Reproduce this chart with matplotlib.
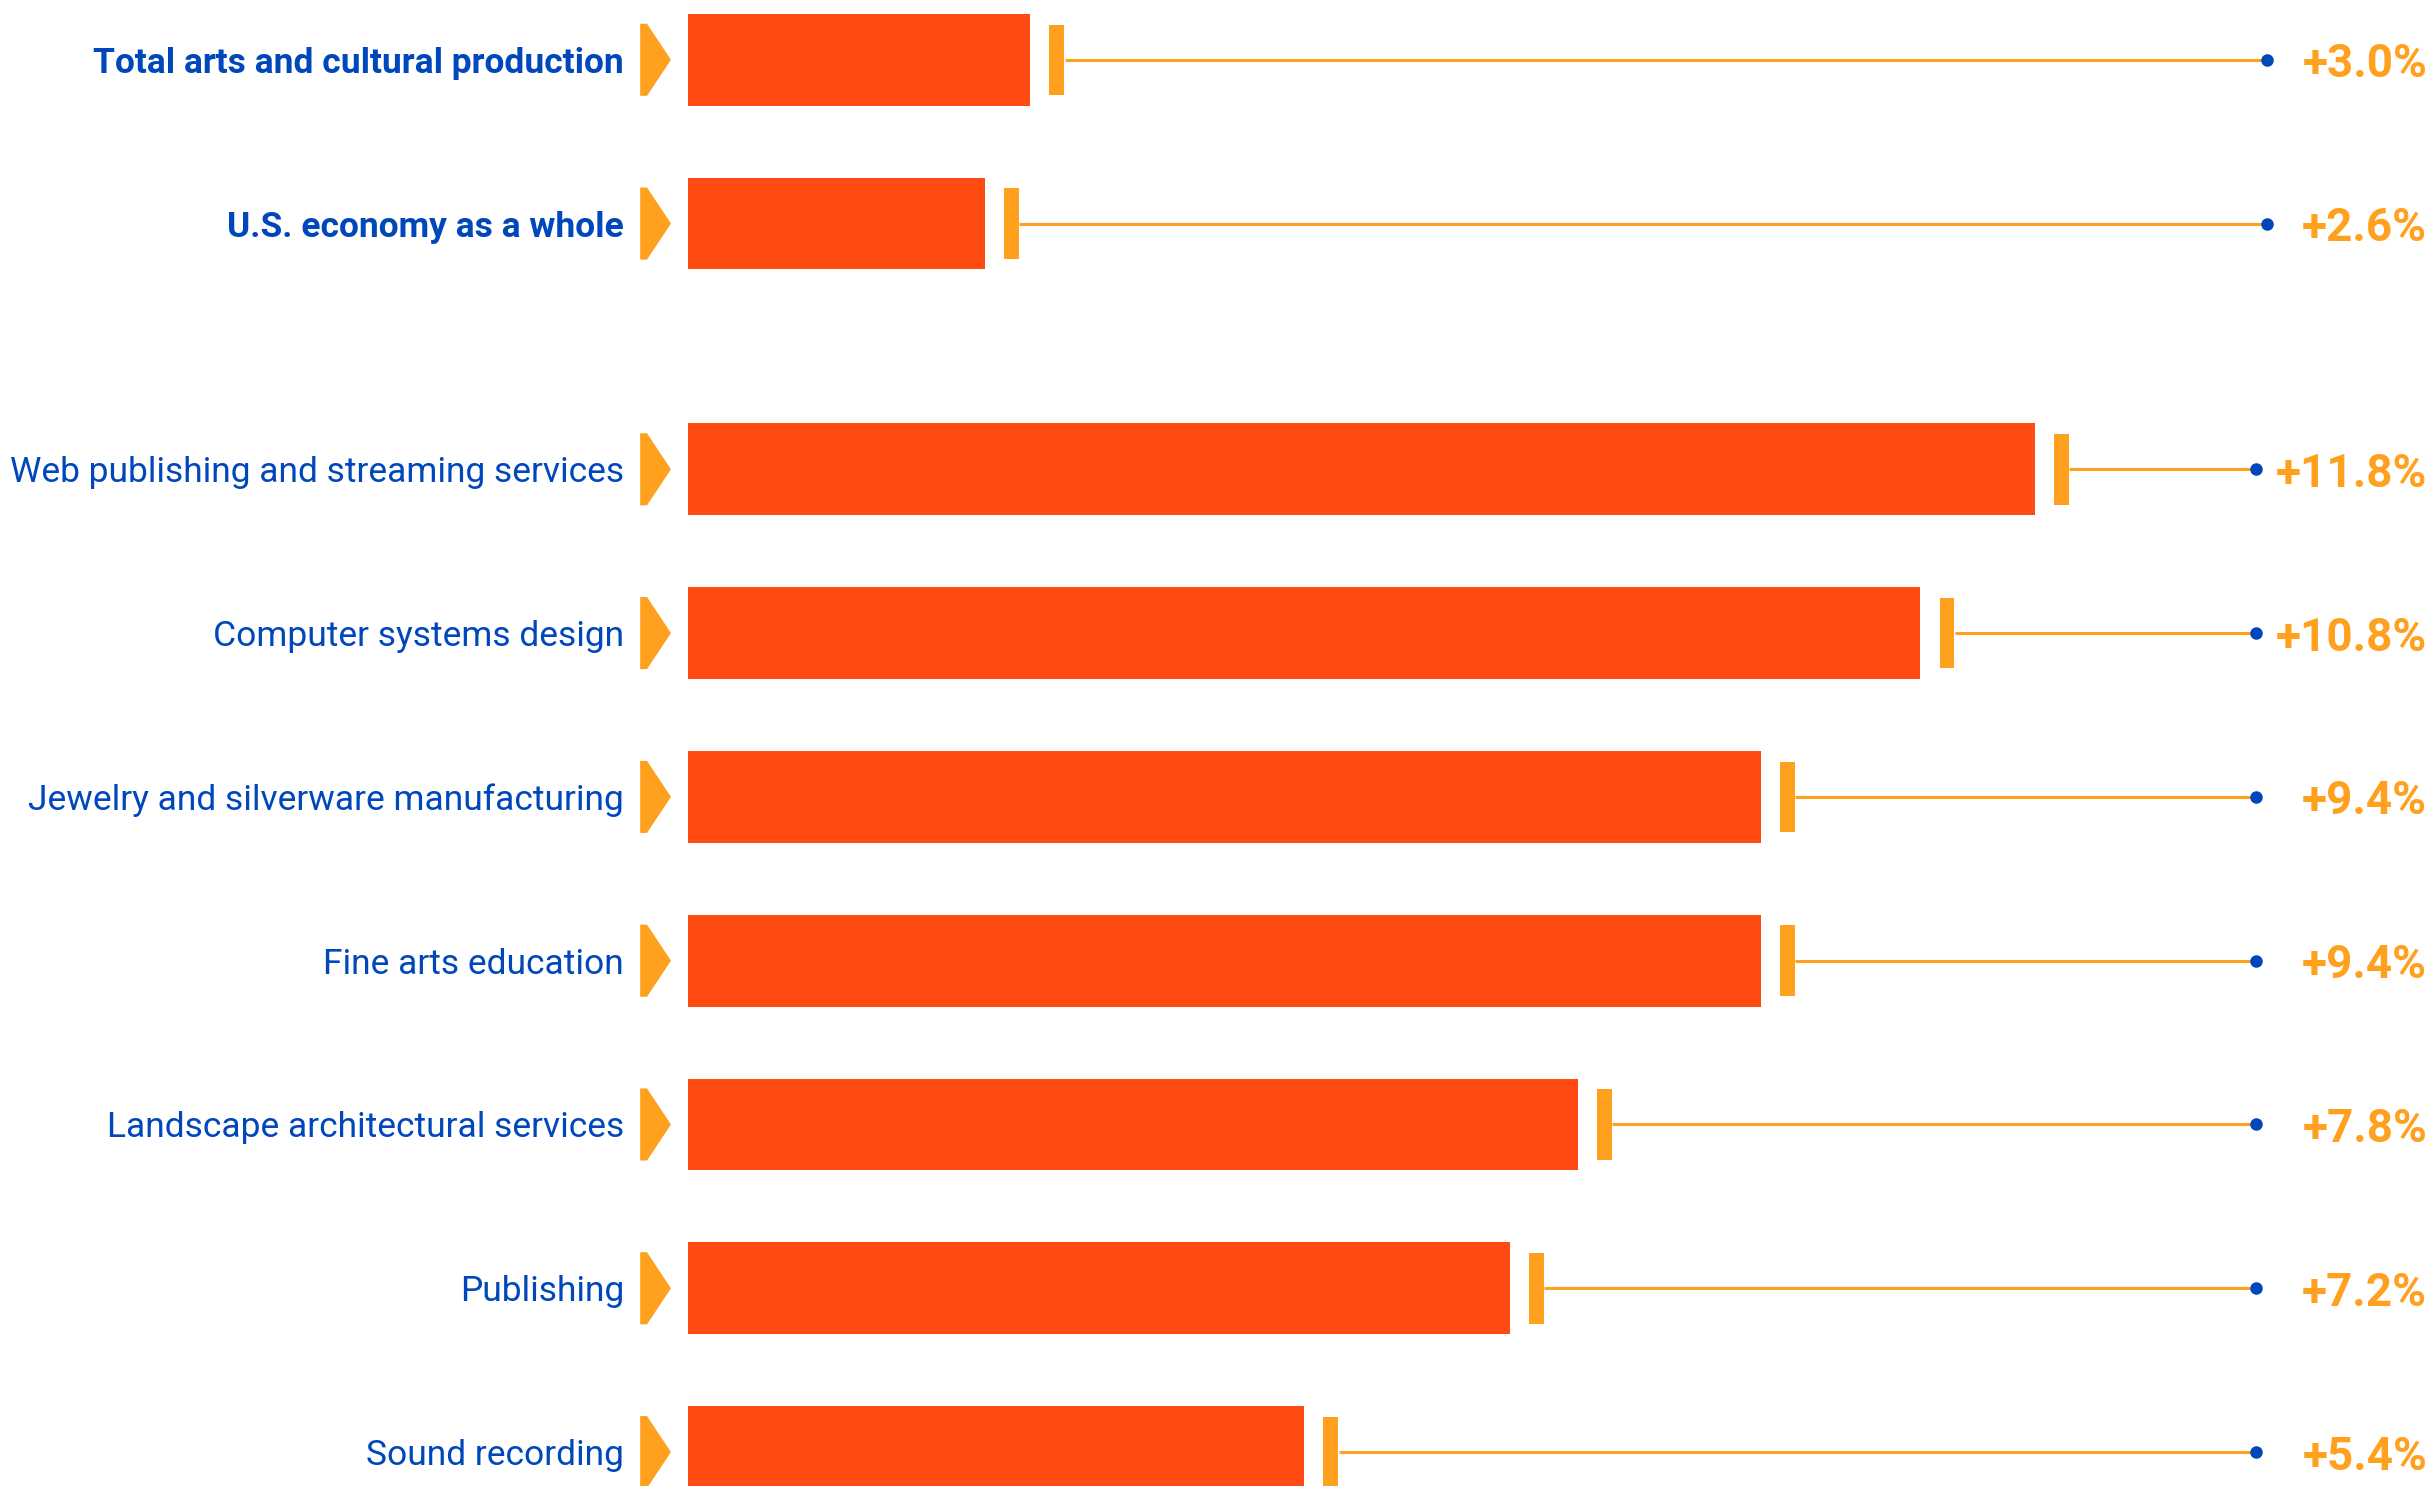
import numpy as np
import matplotlib.pyplot as plt

categories = [
    "Total arts and cultural production",
    "U.S. economy as a whole",
    "Web publishing and streaming services",
    "Computer systems design",
    "Jewelry and silverware manufacturing",
    "Fine arts education",
    "Landscape architectural services",
    "Publishing",
    "Sound recording",
]
growth = [3.0, 2.6, 11.8, 10.8, 9.4, 9.4, 7.8, 7.2, 5.4]
n_summary = 2  # first two rows are the bold summary rows

bar_color = "#FF4A12"
orange = "#FFA01E"
blue = "#0047BB"
font = ["Roboto", "DejaVu Sans"]

# row positions: summary rows, then a gap, then the industries
ypos = [i if i < n_summary else i + 0.5 for i in range(len(categories))]

fig = plt.figure(figsize=(24.34, 14.86), dpi=100)
ax = fig.add_axes([0, 0, 1, 1])
ax.set_xlim(-6.03, 15.30)
ax.set_ylim(8.707, -0.365)
ax.axis("off")

ax.barh(ypos, growth, height=0.56, color=bar_color)

for i, (name, val, y) in enumerate(zip(categories, growth, ypos)):
    summary = i < n_summary
    # little arrow in front of the bar
    ax.fill([-0.42, -0.36, -0.15, -0.36, -0.42],
            [y - 0.22, y - 0.22, y, y + 0.22, y + 0.22],
            color=orange, lw=0)
    # end tick, leader line and dot
    ax.barh(y, 0.13, left=val + 0.167, height=0.43, color=orange)
    dot_x = 13.84 if summary else 13.74
    ax.plot([val + 0.30, dot_x], [y, y], color=orange, lw=2.2,
            solid_capstyle="butt")
    ax.plot(dot_x, y, "o", color=blue, markersize=8)
    ax.text(-0.56, y, name, ha="right", va="center_baseline",
            color=blue, fontsize=25.5, family=font,
            fontweight="bold" if summary else "normal")
    ax.text(15.24, y, f"+{val:.1f}%", ha="right", va="center_baseline",
            color=orange, fontsize=33, family=font, fontweight="bold")

fig.savefig("out.png", dpi=100)
